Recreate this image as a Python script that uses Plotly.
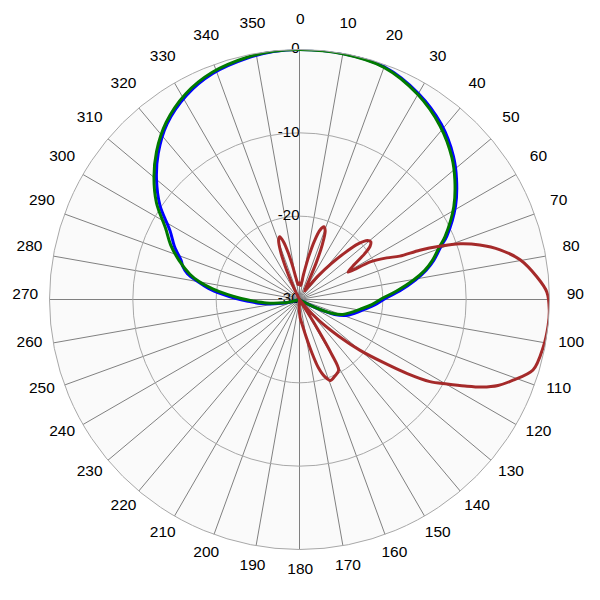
import plotly.graph_objects as go

# ---- data (angle in degrees, level in dB) ----
green_theta = [0, 10, 20, 30, 39, 47, 52.5, 59, 66.7, 69.5, 73.7, 77, 80.5, 85, 89, 94, 99, 104,
               109, 113, 117, 121, 130, 180, 240, 250, 255, 260, 264, 268, 271, 274, 277, 280, 283,
               288, 293, 298, 304, 310, 316, 323, 331, 339, 348, 354, 360]
green_r = [0, -0.05, -0.35, -1.6, -3.2, -5.0, -6.5, -8.4, -11.0, -12.1, -13.4, -14.6, -16.2, -18.3,
           -20.0, -21.3, -22.6, -23.6, -24.5, -25.8, -28.0, -29.6, -30, -30, -30, -30, -29, -27.5,
           -26, -24.5, -23, -21.3, -19.5, -17.8, -16.5, -14.8, -13.2, -11.8, -9.3, -7.2, -5.3,
           -3.4, -1.8, -0.8, -0.25, -0.05, 0]

blue_theta = [0, 10, 20, 30, 39, 47, 52.5, 59, 66.7, 69.5, 73.7, 77, 80.5, 85, 89, 94, 99, 104,
              109, 113, 117, 121, 130, 180, 240, 250, 255, 260, 264, 268, 271, 274, 277, 280, 283,
              286, 288, 293, 298, 304, 310, 316, 323, 331, 339, 348, 354, 360]
blue_r = [0, -0.02, -0.28, -1.45, -2.95, -4.75, -6.25, -8.15, -10.75, -11.9, -13.2, -14.4, -15.9,
          -17.9, -19.6, -20.9, -22.2, -23.2, -24.1, -25.4, -27.7, -29.5, -30, -30, -30, -30, -28.6,
          -27.0, -25.4, -23.8, -22.3, -20.7, -19.0, -17.6, -16.2, -15.4, -15.1, -13.7, -12.4, -9.8,
          -7.6, -5.6, -3.6, -2.0, -0.95, -0.35, -0.08, 0]

red_theta = [0, 5, 9, 12, 14.5, 16.5, 18.5, 20.5, 22.5, 24.5, 27, 31, 35, 38.5, 41.5, 44, 46.5, 49,
             51, 53, 55, 57.5, 60.5, 62, 64.5, 66.6, 67.7, 69.2, 70.9, 73.2, 76.1, 79.8, 84.6, 88.3,
             92.4, 95.9, 101, 106.8, 110.7, 113.4, 115.6, 117.6, 119.8, 122.2, 124.5, 127, 130,
             133, 137, 141, 145, 148, 149.5, 151, 155, 159, 162, 164.5, 167, 170, 174, 178, 182,
             186, 200, 300, 330, 334, 336.5, 338.5, 340.5, 342.5, 344.5, 346.5, 348.5, 351, 355, 360]
red_r = [-28, -28.3, -27, -24.8, -22.6, -21.3, -20.8, -21.2, -22.8, -25.2, -27.8, -28.8, -28, -26.3,
         -24.3, -22.3, -20.3, -19.2, -19.0, -19.4, -20.5, -22.2, -23.3, -20.4, -18.4, -16.9, -14.4,
         -12.0, -9.6, -7.4, -5.2, -3.1, -1.37, -0.3, 0, 0, -0.2, -0.73, -2.6, -4.04, -5.7, -7.6,
         -9.6, -11.5, -14.3, -17.5, -20.5, -23.5, -26.5, -28.8, -30, -27, -22.5, -20.3, -19.9,
         -19.6, -20.3, -21.5, -23.5, -25.5, -27, -27.8, -29, -30, -30, -30, -30, -28.5, -26, -23.8,
         -22.5, -22.1, -22.8, -24.3, -26, -27.5, -28.2, -28]

radial_ticks = [0, -10, -20, -30]
radial_labels = ["0", "-10", "-20", "-30"]
angle_ticks = list(range(0, 360, 10))
angle_labels = [str(a) for a in angle_ticks]

FONT = "Liberation Sans, Arial, sans-serif"
LABEL_RANGE = [0, 1]

fig = go.Figure()

# radial tick labels placed on the 0-degree spoke
fig.add_trace(go.Scatterpolar(
    r=radial_ticks, theta=[0] * len(radial_ticks), mode="text", text=radial_labels,
    textposition="middle left", textfont=dict(family=FONT, size=15, color="black"),
    hoverinfo="skip", showlegend=False))

fig.add_trace(go.Scatterpolar(r=blue_r, theta=blue_theta, mode="lines",
                              line=dict(color="#0000ff", width=3, shape="spline", smoothing=1.0),
                              showlegend=False, hoverinfo="skip"))
fig.add_trace(go.Scatterpolar(r=green_r, theta=green_theta, mode="lines",
                              line=dict(color="#007a00", width=3, shape="spline", smoothing=1.0),
                              showlegend=False, hoverinfo="skip"))
fig.add_trace(go.Scatterpolar(r=red_r, theta=red_theta, mode="lines",
                              line=dict(color="#a52a2a", width=3, shape="spline", smoothing=0.9),
                              showlegend=False, hoverinfo="skip"))

# angular tick labels, centred on a ring just outside the plot circle
fig.add_trace(go.Scatterpolar(
    r=[LABEL_RANGE[1]] * len(angle_ticks), theta=angle_ticks, mode="text", text=angle_labels,
    textposition="middle center", textfont=dict(family=FONT, size=15.5, color="black"),
    cliponaxis=False, hoverinfo="skip", showlegend=False, subplot="polar2"))

fig.update_layout(
    width=600, height=600,
    margin=dict(l=0, r=0, t=0, b=0),
    paper_bgcolor="white",
    font=dict(family=FONT, size=15, color="black"),
    polar=dict(
        domain=dict(x=[0.06917, 0.9025], y=[0.0975, 0.93083]),
        bgcolor="#fafafa",
        radialaxis=dict(range=[-30, 0], tickvals=radial_ticks, showticklabels=False,
                        showline=False, ticks="", gridcolor="#a8a8a8", gridwidth=1),
        angularaxis=dict(rotation=90, direction="clockwise", tickmode="array",
                         tickvals=angle_ticks, showticklabels=False, ticks="",
                         gridcolor="#808080", gridwidth=1,
                         showline=True, linecolor="#a8a8a8", linewidth=1),
    ),
    polar2=dict(
        domain=dict(x=[0.02883, 0.9455], y=[0.06333, 0.98]),
        bgcolor="rgba(0,0,0,0)",
        radialaxis=dict(range=LABEL_RANGE, visible=False),
        angularaxis=dict(rotation=90, direction="clockwise", visible=False),
    ),
)

fig.write_html("out.html")
